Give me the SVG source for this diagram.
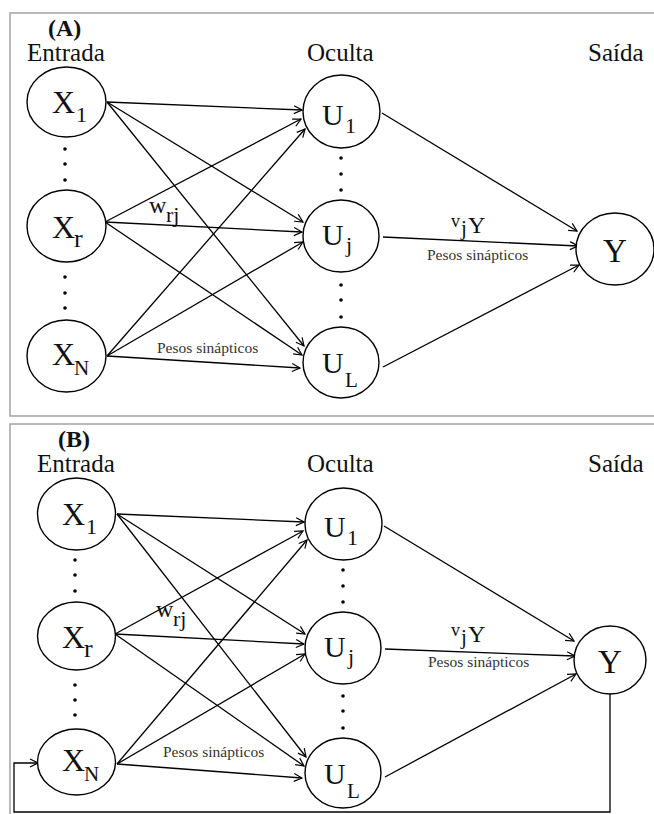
<svg xmlns="http://www.w3.org/2000/svg" width="654" height="814" viewBox="0 0 654 814">
<defs>
<marker id="ah" markerWidth="10" markerHeight="10" refX="9" refY="5" orient="auto" markerUnits="userSpaceOnUse">
<path d="M1,1 L9,5 L1,9" fill="none" stroke="#000" stroke-width="1.2"/>
</marker>
<style>
.panel{fill:none;stroke:#a8a8a8;stroke-width:1.6}
.node{fill:#fff;stroke:#000;stroke-width:1.4}
.e{stroke:#000;stroke-width:1.3;fill:none;marker-end:url(#ah)}
.t{font-family:"Liberation Serif","Times New Roman",serif;fill:#111}
.lbl{font-size:25px}
.big{font-size:32px}
.mid{font-size:30px}
.sub{font-size:22px}
.ps{font-size:15.5px;fill:#333}
.hd{font-size:24px;font-weight:bold}
.dot{fill:#000}
</style>
</defs>
<rect class="panel" x="10" y="13" width="670" height="403"/>
<rect class="panel" x="10" y="424" width="670" height="400"/>

<!-- Panel A -->
<g id="labelsA">
<text class="t hd" x="48" y="36">(A)</text>
<text class="t lbl" x="27" y="61">Entrada</text>
<text class="t lbl" x="307" y="61">Oculta</text>
<text class="t lbl" x="588" y="61">Saída</text>
<text class="t" x="149" y="213" font-size="24">w</text>
<text class="t" x="166" y="222" font-size="22">rj</text>
<text class="t ps" x="157" y="353">Pesos sinápticos</text>
<text class="t" x="451" y="227" font-size="18">v</text>
<text class="t" x="461" y="235" font-size="21">j</text>
<text class="t" x="468" y="233" font-size="24">Y</text>
<text class="t ps" x="427" y="260">Pesos sinápticos</text>
</g>
<g id="connectorsA">
<line class="e" x1="107" y1="102" x2="302" y2="110"/>
<line class="e" x1="107" y1="102" x2="303" y2="222"/>
<line class="e" x1="107" y1="102" x2="304" y2="346"/>
<line class="e" x1="105" y1="222" x2="301" y2="119"/>
<line class="e" x1="105" y1="222" x2="302" y2="232"/>
<line class="e" x1="105" y1="222" x2="302" y2="355"/>
<line class="e" x1="107" y1="356" x2="305" y2="129"/>
<line class="e" x1="107" y1="356" x2="303" y2="242"/>
<line class="e" x1="107" y1="356" x2="300" y2="368"/>
<line class="e" x1="382" y1="113" x2="577" y2="231"/>
<line class="e" x1="383" y1="237" x2="578" y2="246"/>
<line class="e" x1="383" y1="367" x2="579" y2="265"/>
</g>
<g id="dotsA">
<circle class="dot" cx="65" cy="149" r="1.8"/><circle class="dot" cx="65" cy="164" r="1.8"/><circle class="dot" cx="65" cy="180" r="1.8"/>
<circle class="dot" cx="65" cy="277" r="1.8"/><circle class="dot" cx="65" cy="293" r="1.8"/><circle class="dot" cx="65" cy="308" r="1.8"/>
<circle class="dot" cx="341" cy="158" r="1.8"/><circle class="dot" cx="341" cy="174" r="1.8"/><circle class="dot" cx="341" cy="190" r="1.8"/>
<circle class="dot" cx="341" cy="285" r="1.8"/><circle class="dot" cx="341" cy="300" r="1.8"/><circle class="dot" cx="341" cy="317" r="1.8"/>
</g>
<g id="A_X1"><ellipse class="node" cx="66.5" cy="102" rx="39.5" ry="35"/><text class="t big" x="52" y="113">X</text><text class="t sub" x="76" y="122" font-size="24">1</text></g>
<g id="A_Xr"><ellipse class="node" cx="66.5" cy="226" rx="39.5" ry="36"/><text class="t big" x="52" y="238">X</text><text class="t" x="74" y="247" font-size="26">r</text></g>
<g id="A_XN"><ellipse class="node" cx="66.5" cy="356" rx="39.5" ry="36"/><text class="t big" x="52" y="365">X</text><text class="t" x="74" y="375" font-size="21">N</text></g>
<g id="A_U1"><ellipse class="node" cx="341.5" cy="111.5" rx="38.5" ry="36.5"/><text class="t mid" x="322" y="125">U</text><text class="t sub" x="345" y="133">1</text></g>
<g id="A_Uj"><ellipse class="node" cx="341" cy="236" rx="38" ry="36"/><text class="t mid" x="322" y="245">U</text><text class="t sub" x="346" y="252">j</text></g>
<g id="A_UL"><ellipse class="node" cx="341" cy="362.5" rx="38" ry="35.5"/><text class="t mid" x="322" y="373">U</text><text class="t" x="345" y="387" font-size="21">L</text></g>
<g id="A_Y"><ellipse class="node" cx="615" cy="249" rx="39" ry="36"/><text class="t" x="603" y="262" font-size="33">Y</text></g>

<!-- Panel B -->
<g id="labelsB">
<text class="t hd" x="58" y="447">(B)</text>
<text class="t lbl" x="37" y="472">Entrada</text>
<text class="t lbl" x="307" y="472">Oculta</text>
<text class="t lbl" x="588" y="472">Saída</text>
<text class="t" x="156" y="617" font-size="24">w</text>
<text class="t" x="173" y="626" font-size="22">rj</text>
<text class="t ps" x="163" y="757">Pesos sinápticos</text>
<text class="t" x="451" y="636" font-size="18">v</text>
<text class="t" x="461" y="644" font-size="21">j</text>
<text class="t" x="468" y="642" font-size="24">Y</text>
<text class="t ps" x="428" y="667">Pesos sinápticos</text>
</g>
<g id="connectorsB">
<line class="e" x1="117" y1="514" x2="304" y2="522"/>
<line class="e" x1="117" y1="514" x2="305" y2="634"/>
<line class="e" x1="117" y1="514" x2="306" y2="757"/>
<line class="e" x1="115" y1="634" x2="303" y2="531"/>
<line class="e" x1="115" y1="634" x2="304" y2="644"/>
<line class="e" x1="115" y1="634" x2="304" y2="766"/>
<line class="e" x1="117" y1="764" x2="307" y2="540"/>
<line class="e" x1="117" y1="764" x2="305" y2="654"/>
<line class="e" x1="117" y1="764" x2="302" y2="778"/>
<line class="e" x1="384" y1="526" x2="574" y2="641"/>
<line class="e" x1="385" y1="649" x2="575" y2="656"/>
<line class="e" x1="385" y1="777" x2="576" y2="674"/>
<polyline class="e" points="610,694 610,812 14,812 14,763 38,763"/>
</g>
<g id="dotsB">
<circle class="dot" cx="75" cy="560" r="1.8"/><circle class="dot" cx="75" cy="575" r="1.8"/><circle class="dot" cx="75" cy="591" r="1.8"/>
<circle class="dot" cx="75" cy="685" r="1.8"/><circle class="dot" cx="75" cy="700" r="1.8"/><circle class="dot" cx="75" cy="715" r="1.8"/>
<circle class="dot" cx="343" cy="570" r="1.8"/><circle class="dot" cx="343" cy="586" r="1.8"/><circle class="dot" cx="343" cy="602" r="1.8"/>
<circle class="dot" cx="343" cy="696" r="1.8"/><circle class="dot" cx="343" cy="711" r="1.8"/><circle class="dot" cx="343" cy="728" r="1.8"/>
</g>
<g id="B_X1"><ellipse class="node" cx="76.5" cy="514" rx="39" ry="36"/><text class="t big" x="62" y="525">X</text><text class="t sub" x="86" y="534" font-size="24">1</text></g>
<g id="B_Xr"><ellipse class="node" cx="76.5" cy="636" rx="39" ry="34"/><text class="t big" x="62" y="648">X</text><text class="t" x="84" y="657" font-size="26">r</text></g>
<g id="B_XN"><ellipse class="node" cx="76.5" cy="762" rx="39" ry="33"/><text class="t big" x="62" y="771">X</text><text class="t" x="84" y="781" font-size="21">N</text></g>
<g id="B_U1"><ellipse class="node" cx="343.5" cy="524" rx="38.5" ry="36"/><text class="t mid" x="324" y="537">U</text><text class="t sub" x="347" y="545">1</text></g>
<g id="B_Uj"><ellipse class="node" cx="343" cy="648" rx="38" ry="36"/><text class="t mid" x="324" y="657">U</text><text class="t sub" x="348" y="664">j</text></g>
<g id="B_UL"><ellipse class="node" cx="343" cy="773" rx="38" ry="35"/><text class="t mid" x="324" y="784">U</text><text class="t" x="347" y="798" font-size="21">L</text></g>
<g id="B_Y"><ellipse class="node" cx="610" cy="660" rx="36" ry="34"/><text class="t" x="598" y="673" font-size="33">Y</text></g>
</svg>
